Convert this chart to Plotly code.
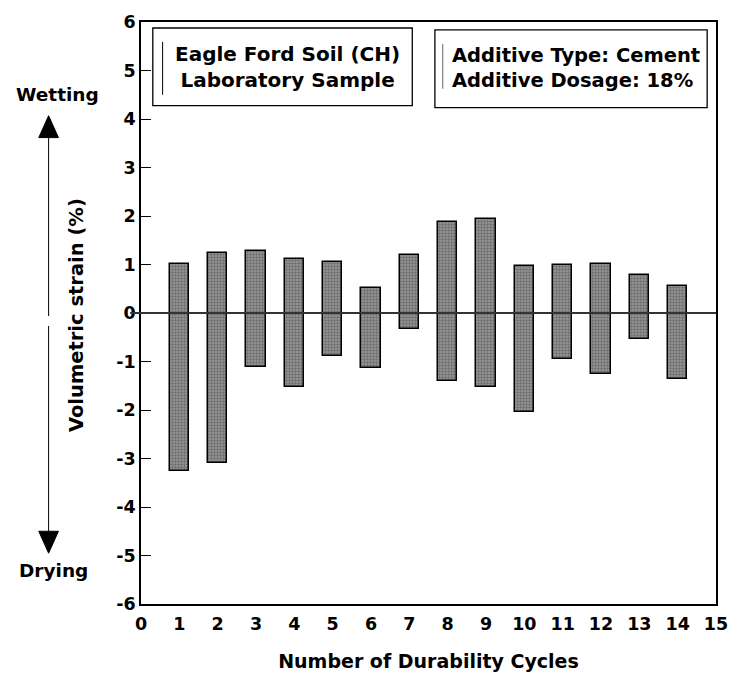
import plotly.graph_objects as go

cycles = [1, 2, 3, 4, 5, 6, 7, 8, 9, 10, 11, 12, 13, 14]
wetting = [1.01, 1.23, 1.28, 1.11, 1.06, 0.52, 1.20, 1.87, 1.93, 0.97, 1.00, 1.02, 0.79, 0.56]
drying = [-3.26, -3.09, -1.11, -1.53, -0.89, -1.13, -0.34, -1.40, -1.53, -2.05, -0.95, -1.26, -0.54, -1.37]
x_ticks = list(range(0, 16))
y_ticks = list(range(-6, 7))

W, H = 740, 681
L, R, T, B = 141, 726, 20, 604
FONT = "DejaVu Sans, Liberation Sans, Arial, sans-serif"


def px(x):
    return (x - L) / (R - L)


def py(y):
    return (B - y) / (B - T)


fig = go.Figure()
fig.add_trace(go.Bar(
    x=cycles,
    y=[w - d for w, d in zip(wetting, drying)],
    base=drying,
    width=0.5,
    marker=dict(
        color="#808080",
        line=dict(color="black", width=1.5),
        pattern=dict(shape=".", fgcolor="#404040", bgcolor="#9a9a9a", size=3, solidity=0.5),
    ),
    showlegend=False,
))

shapes = []
# zero line
shapes.append(dict(type="line", xref="paper", yref="y", x0=px(130), x1=1, y0=0, y1=0,
                   line=dict(color="#333", width=2), layer="above"))
# boxes
shapes.append(dict(type="rect", xref="paper", yref="paper", x0=px(153), x1=px(417), y0=py(104), y1=py(26),
                   line=dict(color="black", width=1.3)))
shapes.append(dict(type="line", xref="paper", yref="paper", x0=px(163), x1=px(163), y0=py(93), y1=py(40),
                   line=dict(color="black", width=1)))
shapes.append(dict(type="rect", xref="paper", yref="paper", x0=px(440), x1=px(717), y0=py(106), y1=py(28),
                   line=dict(color="black", width=1.3)))
shapes.append(dict(type="line", xref="paper", yref="paper", x0=px(448), x1=px(448), y0=py(87), y1=py(42),
                   line=dict(color="#666", width=1)))
# arrows
ax = 47
shapes.append(dict(type="line", xref="paper", yref="paper", x0=px(ax), x1=px(ax), y0=py(135), y1=py(315),
                   line=dict(color="black", width=1)))
shapes.append(dict(type="line", xref="paper", yref="paper", x0=px(ax), x1=px(ax), y0=py(325), y1=py(533),
                   line=dict(color="black", width=1)))
shapes.append(dict(type="path", xref="paper", yref="paper",
                   path=f"M {px(ax)} {py(114)} L {px(ax-10)} {py(136)} L {px(ax+10)} {py(136)} Z",
                   fillcolor="black", line=dict(color="black", width=1)))
shapes.append(dict(type="path", xref="paper", yref="paper",
                   path=f"M {px(ax)} {py(553)} L {px(ax-10)} {py(531)} L {px(ax+10)} {py(531)} Z",
                   fillcolor="black", line=dict(color="black", width=1)))


def ann(text, x, y, size=18, angle=0, align="center"):
    return dict(text=text, xref="paper", yref="paper", x=px(x), y=py(y), showarrow=False,
                xanchor="center", yanchor="middle", textangle=angle, align=align,
                font=dict(family=FONT, size=size, color="black"))


annotations = [
    ann("<b>Eagle Ford Soil (CH)</b><br><b>Laboratory Sample</b>", 290, 65, 20),
    ann("<b>Additive Type: Cement</b><br><b>Additive Dosage: 18%</b>", 584, 66, 19.5, align="left"),
    ann("<b>Wetting</b>", 56, 93, 18.5),
    ann("<b>Drying</b>", 52, 570, 18.5),
    ann("<b>Volumetric strain (%)</b>", 76, 314, 19.5, angle=-90),
]

fig.update_layout(
    width=W, height=H,
    margin=dict(l=L, r=W - R, t=T, b=H - B),
    plot_bgcolor="white", paper_bgcolor="white",
    shapes=shapes, annotations=annotations,
    bargap=0,
    xaxis=dict(range=[0, 15], tickvals=x_ticks, ticktext=[f"<b>{v}</b>" for v in x_ticks],
               showgrid=False, zeroline=False, showline=True, linecolor="black", linewidth=1.5,
               mirror=True, ticks="", ticklabelstandoff=3,
               tickfont=dict(family=FONT, size=17.5, color="black"),
               title=dict(text="<b>Number of Durability Cycles</b>", font=dict(family=FONT, size=19, color="black"),
                          standoff=22)),
    yaxis=dict(range=[-6, 6], tickvals=y_ticks, ticktext=[f"<b>{v}</b>" for v in y_ticks],
               showgrid=False, zeroline=False, showline=True, linecolor="black", linewidth=1.5,
               mirror=True, ticks="inside", ticklen=10, tickcolor="black", tickwidth=1,
               tickfont=dict(family=FONT, size=17.5, color="black")),
)

fig.write_html("out.html")
